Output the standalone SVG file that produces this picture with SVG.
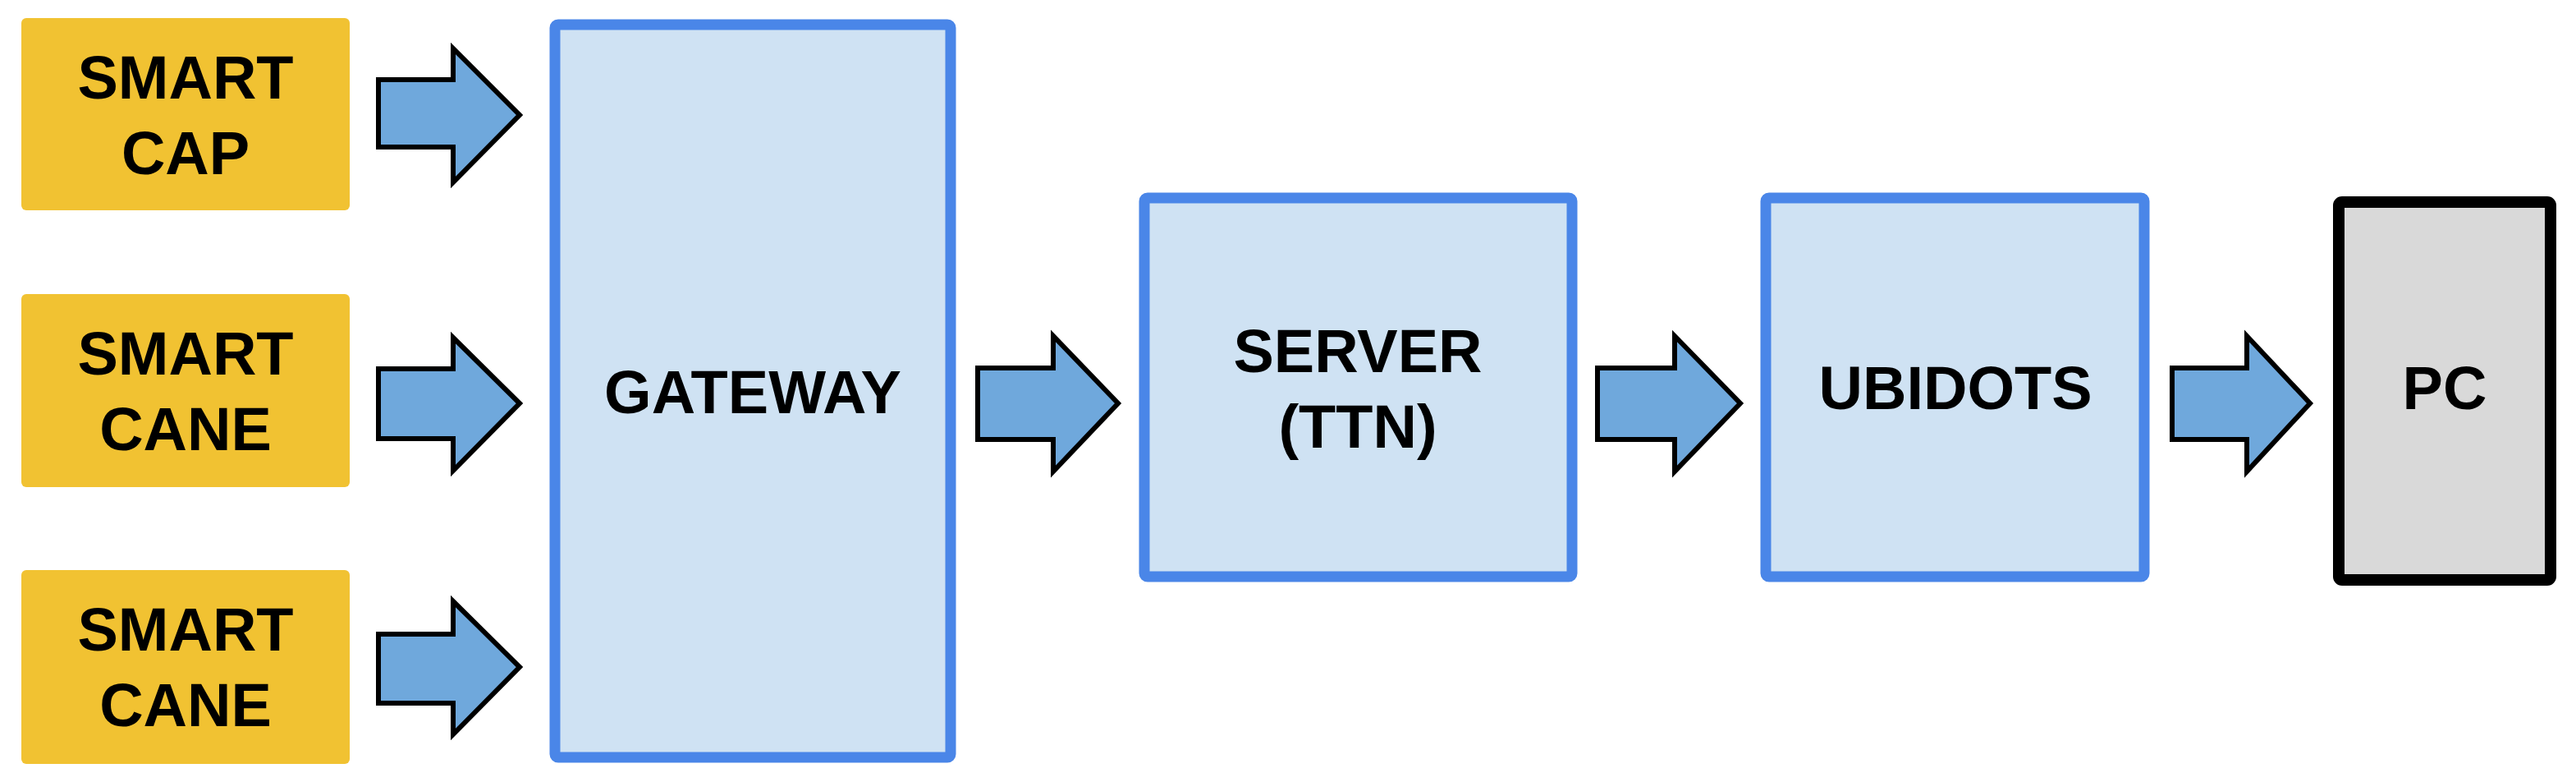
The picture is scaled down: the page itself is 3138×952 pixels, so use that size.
<svg xmlns="http://www.w3.org/2000/svg" width="3138" height="952" viewBox="0 0 3138 952">
<style>
.dev{fill:#F1C232}
.blk{fill:#CFE2F3;stroke:#4A86E8;stroke-width:13}
.pc{fill:#D9D9D9;stroke:#000;stroke-width:14}
.arr{fill:#6FA8DC;stroke:#000;stroke-width:6;stroke-linejoin:miter}
text{font-family:"Liberation Sans",Arial,sans-serif;font-weight:bold;font-size:74px;fill:#000;text-anchor:middle}
</style>
<rect width="3138" height="952" fill="#fff"/>
<g id="cap"><rect class="dev" x="26" y="22" width="400" height="234" rx="6"/><text x="226" y="120">SMART</text><text x="226" y="212">CAP</text></g>
<g id="cane1"><rect class="dev" x="26" y="358" width="400" height="235" rx="6"/><text x="226" y="456">SMART</text><text x="226" y="548">CANE</text></g>
<g id="cane2"><rect class="dev" x="26" y="694" width="400" height="236" rx="6"/><text x="226" y="792">SMART</text><text x="226" y="884">CANE</text></g>
<g id="gateway"><rect class="blk" x="676" y="30" width="482" height="892" rx="4"/><text x="917" y="503">GATEWAY</text></g>
<g id="server"><rect class="blk" x="1394" y="241" width="521" height="461" rx="4"/><text x="1654" y="453">SERVER</text><text x="1654" y="545">(TTN)</text></g>
<g id="ubidots"><rect class="blk" x="2151" y="241" width="461" height="461" rx="4"/><text x="2382" y="498">UBIDOTS</text></g>
<g id="pc"><rect class="pc" x="2849" y="246" width="258" height="460" rx="4"/><text x="2978" y="498">PC</text></g>
<g id="connectors">
<polygon class="arr" points="461,97 552,97 552,59 633,140 552,222 552,179 461,179"/>
<polygon class="arr" points="461,449 552,449 552,411 633,491 552,573 552,534 461,534"/>
<polygon class="arr" points="461,772 552,772 552,732 633,812 552,894 552,856 461,856"/>
<polygon class="arr" points="1191,448 1283,448 1283,409 1362,491 1283,574 1283,535 1191,535"/>
<polygon class="arr" points="1946,448 2040,448 2040,409 2120,491 2040,574 2040,535 1946,535"/>
<polygon class="arr" points="2646,448 2737,448 2737,409 2814,491 2737,574 2737,535 2646,535"/>
</g>
</svg>
